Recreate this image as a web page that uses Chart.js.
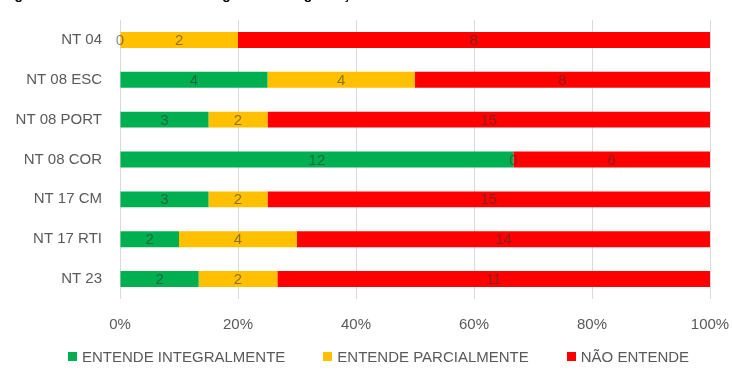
<!DOCTYPE html>
<html>
<head>
<meta charset="utf-8">
<script src="https://cdn.jsdelivr.net/npm/chart.js@4.4.1/dist/chart.umd.min.js"></script>
<style>
  html, body { margin: 0; padding: 0; background: #fff; overflow: hidden; }
  #wrap { position: relative; width: 732px; height: 376px; }
  #titulo {
    position: absolute; left: 2px; top: -14px;
    font: bold 14px "Liberation Sans", Arial, sans-serif; color: #000;
    white-space: nowrap;
  }
  #legenda {
    position: absolute; left: 68px; top: 348px;
    display: flex; gap: 38px;
    font: 15px "Liberation Sans", Arial, sans-serif; color: #595959;
  }
  #legenda span { display: flex; align-items: center; white-space: nowrap; }
  #legenda i { display: inline-block; width: 9px; height: 9px; margin-right: 5px; }
</style>
</head>
<body>
<div id="wrap">
  <div id="titulo">Figura 4 - Entendimento das categorias de segurança</div>
  <canvas id="grafico" width="732" height="376"></canvas>
  <div id="legenda"></div>
</div>
<script>
// categorias (normas) e contagens por nível de entendimento
const categorias = ["NT 04", "NT 08 ESC", "NT 08 PORT", "NT 08 COR", "NT 17 CM", "NT 17 RTI", "NT 23"];
const integralmente = [0, 4, 3, 12, 3, 2, 2];
const parcialmente = [2, 4, 2, 0, 2, 4, 2];
const naoEntende = [8, 8, 15, 6, 15, 14, 11];
const nomesSeries = ["ENTENDE INTEGRALMENTE", "ENTENDE PARCIALMENTE", "NÃO ENTENDE"];
const cores = ["#00B050", "#FFC000", "#FF0000"];
const ticksX = ["0%", "20%", "40%", "60%", "80%", "100%"];

const fonte = '"Liberation Sans", Arial, sans-serif';
const cinza = "#595959";

const contagens = [integralmente, parcialmente, naoEntende];
const totais = categorias.map((_, i) => integralmente[i] + parcialmente[i] + naoEntende[i]);

// barras 100% empilhadas: percentual calculado a partir das contagens
const datasets = contagens.map((serie, k) => ({
  label: nomesSeries[k],
  data: serie.map((v, i) => v / totais[i] * 100),
  contagem: serie,
  backgroundColor: cores[k],
  borderWidth: 0,
  categoryPercentage: 1,
  barPercentage: 0.4
}));

// rótulos com a contagem no centro de cada segmento
const rotulos = {
  id: "rotulos",
  afterDatasetsDraw(chart) {
    const ctx = chart.ctx;
    ctx.save();
    ctx.font = "15px " + fonte;
    ctx.fillStyle = "rgba(50,50,50,0.55)";
    ctx.textAlign = "center";
    ctx.textBaseline = "middle";
    chart.data.datasets.forEach((ds, k) => {
      chart.getDatasetMeta(k).data.forEach((bar, i) => {
        const x = (bar.x + bar.base) / 2;
        ctx.fillText(String(ds.contagem[i]), x, bar.y + 1);
      });
    });
    ctx.restore();
  }
};

// sem folga extra dos rótulos nas bordas: a área útil fica fixa
const semFolga = s => {
  s.paddingLeft = 0; s.paddingRight = 0;
  s.paddingTop = 0; s.paddingBottom = 0;
};

const grafico = new Chart(document.getElementById("grafico"), {
  type: "bar",
  data: { labels: categorias, datasets },
  plugins: [rotulos],
  options: {
    indexAxis: "y",
    responsive: false,
    animation: false,
    layout: { padding: { top: 20, right: 22, left: 0, bottom: 25 } },
    scales: {
      x: {
        stacked: true,
        min: 0,
        max: 100,
        grid: { color: "#D9D9D9", drawTicks: false },
        border: { display: false },
        afterFit: semFolga,
        ticks: {
          stepSize: 20,
          padding: 17,
          color: cinza,
          font: { family: fonte, size: 15 },
          callback: (v, i) => ticksX[i]
        }
      },
      y: {
        stacked: true,
        grid: { display: false, drawTicks: false },
        border: { display: false },
        afterFit: s => { semFolga(s); s.width = 120; },
        ticks: {
          padding: 18,
          color: cinza,
          font: { family: fonte, size: 15 }
        }
      }
    },
    plugins: {
      tooltip: { enabled: false },
      legend: { display: false }
    }
  }
});

// legenda em HTML abaixo do gráfico
const legenda = document.getElementById("legenda");
grafico.data.datasets.forEach(ds => {
  const item = document.createElement("span");
  const caixa = document.createElement("i");
  caixa.style.background = ds.backgroundColor;
  item.appendChild(caixa);
  item.appendChild(document.createTextNode(ds.label));
  legenda.appendChild(item);
});
</script>
</body>
</html>
